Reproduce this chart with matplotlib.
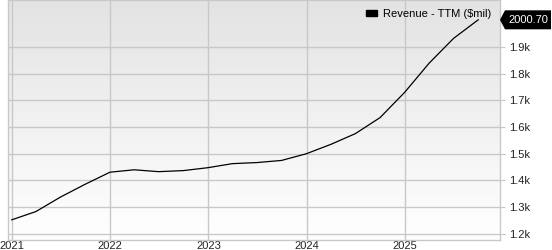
import matplotlib
matplotlib.use("Agg")
import matplotlib.pyplot as plt
import matplotlib.dates as mdates
from matplotlib.patches import Patch, Polygon
from matplotlib.transforms import blended_transform_factory, IdentityTransform
from matplotlib.ticker import FuncFormatter
import numpy as np
import pandas as pd

plt.rcParams['font.family'] = ['Liberation Sans', 'DejaVu Sans']

# quarterly revenue, trailing twelve months ($mil)
quarters = pd.date_range("2020-12-31", "2025-09-30", freq="QE")
revenue = [1253, 1284, 1338, 1386, 1431, 1440, 1433, 1437, 1448, 1463,
           1467, 1475, 1500, 1535, 1575, 1635, 1730, 1838, 1931, 2000.70]
series_name = "Revenue - TTM ($mil)"

fig = plt.figure(figsize=(5.52, 2.5), dpi=100)
ax = fig.add_axes([8 / 552, 10.5 / 250, 492 / 552, 239.5 / 250])

# grey-to-white background gradient
grad = np.linspace(0, 1, 256).reshape(-1, 1)
bg = matplotlib.colors.LinearSegmentedColormap.from_list("bg", ["#e3e3e3", "#ffffff"])
ax.imshow(grad, cmap=bg, extent=[0, 1, 0, 1], transform=ax.transAxes,
          aspect="auto", zorder=0)

ax.plot(quarters, revenue, color="black", lw=0.9, zorder=3)

ax.set_xlim(pd.Timestamp("2020-12-17"), pd.Timestamp("2025-12-20"))
ax.set_ylim(1179.4, 2074.8)
ax.xaxis.set_major_locator(mdates.YearLocator())
ax.xaxis.set_major_formatter(mdates.DateFormatter("%Y"))
ax.set_yticks(np.arange(1200, 2000, 100))
ax.yaxis.set_major_formatter(FuncFormatter(lambda v, p: f"{v / 1000:.1f}k"))

ax.grid(True, color="#c8c8c8", lw=1)
ax.set_axisbelow(True)
for s in ax.spines.values():
    s.set_color("#c8c8c8")
    s.set_linewidth(1)

ax.yaxis.tick_right()
ax.tick_params(axis="y", direction="out", length=3.6, color="#c8c8c8", pad=2.8,
               labelsize=8, labelcolor="#222222")
ax.tick_params(axis="x", length=0, pad=1.0, labelsize=8, labelcolor="#222222")

# last value tag pointing at the right edge
px, py = blended_transform_factory(ax.transAxes, ax.transData).transform((1, revenue[-1]))
tag = Polygon([(px, py), (px + 5, py + 9.5), (px + 51, py + 9.5),
               (px + 51, py - 9.5), (px + 5, py - 9.5)],
              closed=True, fc="black", ec="none", transform=IdentityTransform())
fig.add_artist(tag)
fig.text(px + 28.5, py, f"{revenue[-1]:.2f}", transform=IdentityTransform(),
         ha="center", va="center", color="white", fontsize=8)

ax.legend(handles=[Patch(color="black", label=series_name.replace("$", r"\$"))],
          loc="upper right", frameon=False, fontsize=8, handlelength=1.0,
          handleheight=0.4, handletextpad=0.5, borderaxespad=0.4)

fig.savefig("out.png", dpi=100)
